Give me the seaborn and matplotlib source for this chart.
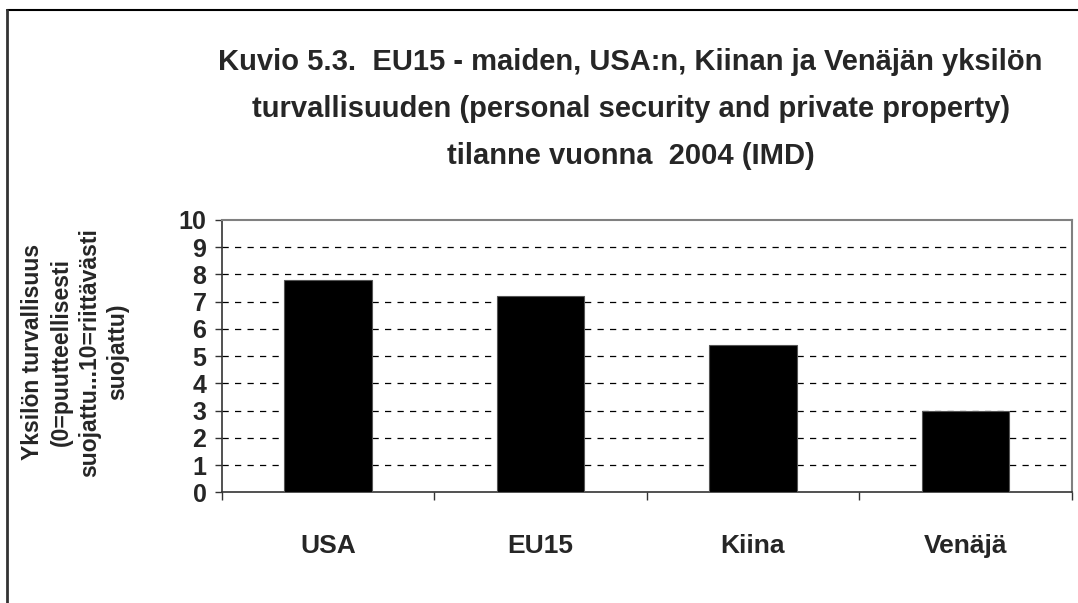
import numpy as np
import pandas as pd
import matplotlib
matplotlib.use("Agg")
import matplotlib.pyplot as plt
import seaborn as sns
from matplotlib.lines import Line2D

# data
countries = ["USA", "EU15", "Kiina", "Venäjä"]
security = [7.8, 7.2, 5.4, 3.0]
y_ticks = list(range(0, 11))

title = ("Kuvio 5.3.  EU15 - maiden, USA:n, Kiinan ja Venäjän yksilön\n"
         "turvallisuuden (personal security and private property)\n"
         "tilanne vuonna  2004 (IMD)")
y_label = ("Yksilön turvallisuus\n(0=puutteellisesti\n"
           "suojattu...10=riittävästi\nsuojattu)")

sns.set_theme(style="white")
plt.rcParams["font.family"] = ["Liberation Sans", "DejaVu Sans"]

df = pd.DataFrame({"country": countries, "value": security})

fig = plt.figure(figsize=(10.78, 6.03), dpi=100)
ax = fig.add_axes([0.2057, 0.1836, 0.7885, 0.4516])

sns.barplot(data=df, x="country", y="value", color="black", width=0.41,
            saturation=1, edgecolor="#555555", linewidth=0.8, ax=ax, zorder=3)

ax.set_ylim(0, 10)
ax.set_xlim(-0.5, len(countries) - 0.5)
ax.set_yticks(y_ticks)
ax.set_yticklabels([str(t) for t in y_ticks], fontsize=18, fontweight="bold")
ax.tick_params(axis="y", direction="out", length=5, width=1, color="#333333",
               pad=6, left=True)
ax.tick_params(axis="x", which="major", length=0, pad=30)
ax.set_xticks(np.arange(-0.5, len(countries)), minor=True)
ax.tick_params(axis="x", which="minor", direction="out", length=6, width=1,
               color="#333333", bottom=True)
for lab in ax.get_xticklabels():
    lab.set_fontsize(19)
    lab.set_fontweight("bold")

ax.set_xlabel("")
ax.set_ylabel("")
for yv in y_ticks[1:-1]:
    ax.axhline(yv, color="black", lw=0.9, ls=(0, (5, 5)), zorder=1)

for side in ["left", "bottom"]:
    ax.spines[side].set_color("#333333")
    ax.spines[side].set_linewidth(1.2)
for side in ["top", "right"]:
    ax.spines[side].set_color("#808080")
    ax.spines[side].set_linewidth(1.5)
    ax.spines[side].set_visible(True)

fig.text(0.585, 0.92, title, ha="center", va="top", fontsize=21,
         fontweight="bold", linespacing=1.85)
fig.text(0.07, 0.416, y_label, ha="center", va="center", rotation=90,
         fontsize=16.5, fontweight="bold", linespacing=1.3)

# outer chart frame (top and left edge visible)
fig.add_artist(Line2D([0.0065, 1.0], [0.984, 0.984], color="black", lw=1.5,
                      transform=fig.transFigure))
fig.add_artist(Line2D([0.0065, 0.0065], [0.0, 0.984], color="#333333", lw=2,
                      transform=fig.transFigure))

fig.savefig("out.png", dpi=100)
plt.close(fig)
